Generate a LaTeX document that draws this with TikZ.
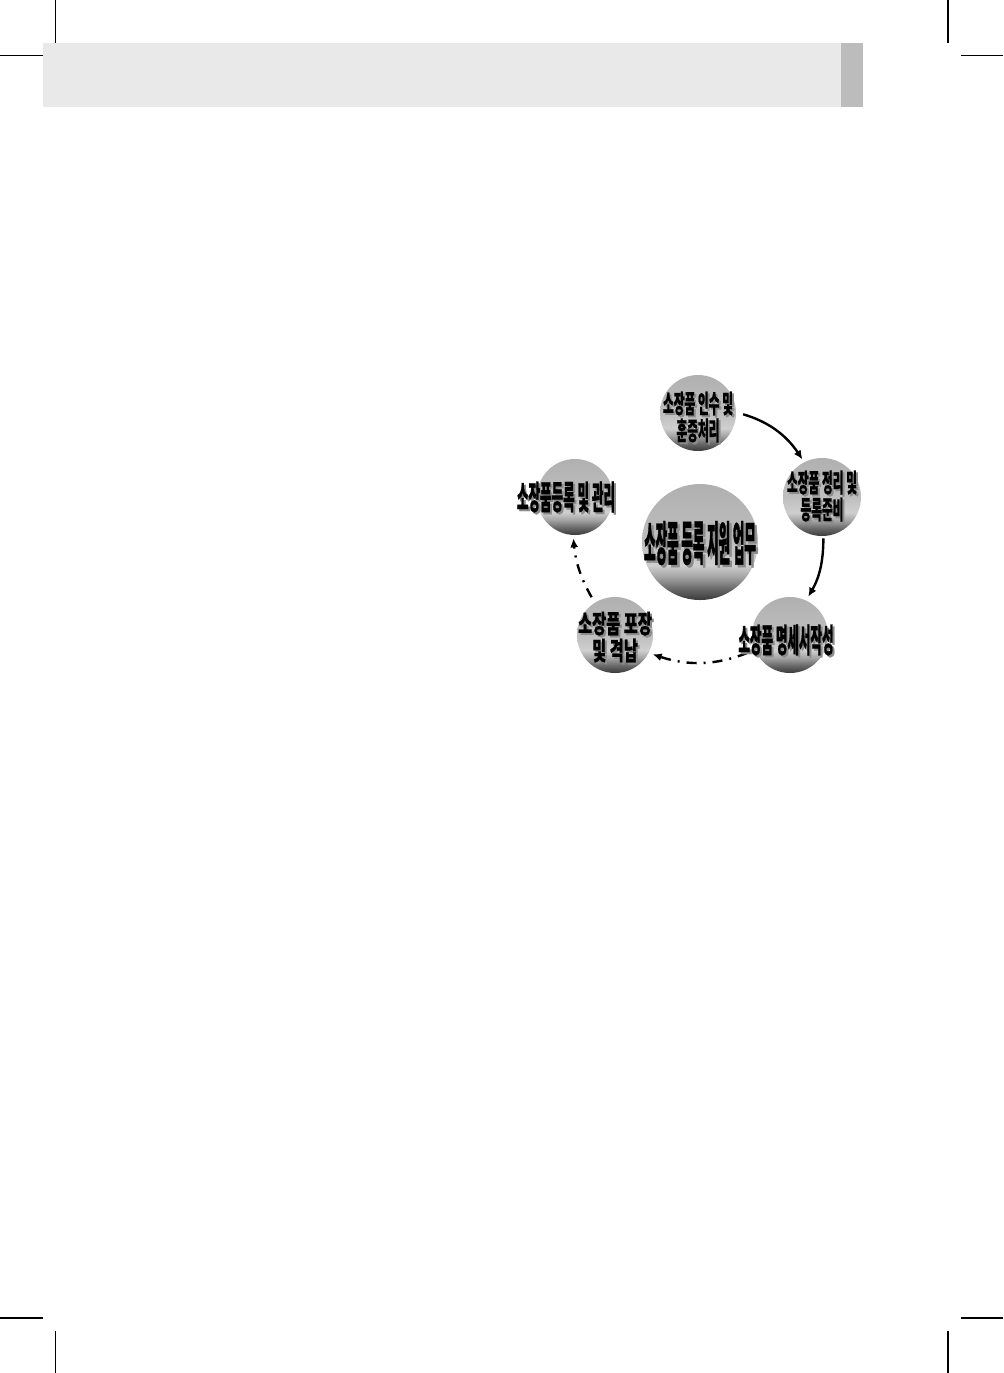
\documentclass[tikz,border=0pt]{standalone}
\usepackage{fontspec}
\newfontfamily\krN{Noto Sans CJK KR}[FakeStretch=0.46, FakeBold=0.5]
\newfontfamily\krW{Noto Sans CJK KR}[FakeStretch=0.60, FakeBold=0.5]
\newfontfamily\krS{Noto Sans CJK KR}[FakeStretch=0.38, FakeBold=0.5]
\newfontfamily\krC{Noto Sans CJK KR}[FakeStretch=0.265, FakeBold=0.7]
\usetikzlibrary{arrows.meta}
\definecolor{hdrgray}{HTML}{E9E9E9}
\definecolor{hdrstrip}{HTML}{BCBCBC}
\definecolor{sdgray}{HTML}{8C8C8C}
\definecolor{shA}{HTML}{3A3A3A}
\definecolor{shB}{HTML}{6A6A6A}
\definecolor{shC}{HTML}{A4A4A4}
\definecolor{shD}{HTML}{CFCFCF}
\definecolor{shE}{HTML}{BEBEBE}
\definecolor{shF}{HTML}{B0B0B0}
\pgfdeclareverticalshading{bubbleshade}{100bp}{color(0bp)=(shA); color(25bp)=(shA); color(30bp)=(shB); color(35bp)=(shC); color(40bp)=(shD); color(50bp)=(shE); color(75bp)=(shF); color(100bp)=(shF)}
\begin{document}
\begin{tikzpicture}[x=0.5pt,y=-0.5pt,
  bubble/.style={circle, draw=none, shading=bubbleshade, inner sep=0pt},
  crop/.style={line width=0.6pt, black},
  lbl/.style={align=center, inner sep=0pt, text=black},
  sd/.style={lbl, text=sdgray},
  twoline/.style={font=\krN\bfseries\fontsize{12.75pt}{13.5pt}\selectfont},
  wideline/.style={font=\krW\bfseries\fontsize{12.75pt}{13.5pt}\selectfont},
  oneline/.style={font=\krS\bfseries\fontsize{16.5pt}{18pt}\selectfont},
  bigline/.style={font=\krC\bfseries\fontsize{23.5pt}{25pt}\selectfont},
  flow/.style={-{Latex[length=4.5pt,width=4pt]}, line width=1.2pt},
  dflow/.style={flow, dash pattern=on 5pt off 3.5pt on 1pt off 3.5pt}
]
\useasboundingbox (0,0) rectangle (1003,1373);
\fill[white] (0,0) rectangle (1003,1373);
% header band
\fill[hdrgray] (43,43) rectangle (841,107);
\fill[hdrstrip] (841,43) rectangle (863,107);
% crop marks
\draw[crop] (55.5,0) -- (55.5,42.5);
\draw[crop] (0,55.5) -- (42.5,55.5);
\draw[crop] (948,0) -- (948,42.5);
\draw[crop] (961,55.5) -- (1003,55.5);
\draw[crop] (0,1318) -- (42.5,1318);
\draw[crop] (55.5,1330.5) -- (55.5,1373);
\draw[crop] (961,1318) -- (1003,1318);
\draw[crop] (948,1330.5) -- (948,1373);
% circles
\node[bubble, minimum size=38pt] (n1) at (698,413) {};
\node[bubble, minimum size=39pt] (n2) at (822,497) {};
\node[bubble, minimum size=38pt] (n3) at (790,635) {};
\node[bubble, minimum size=38pt] (n4) at (615,635) {};
\node[bubble, minimum size=38pt] (n5) at (575,497) {};
\node[bubble, minimum size=58pt] (c) at (700,542) {};
% connectors
\draw[flow, shorten <=3.5pt, shorten >=1.5pt] (n1.1) to[bend left=20] (n2.117);
\draw[flow, shorten <=1pt, shorten >=2pt] (n2.272) to[bend left=15] (n3.65);
\draw[dflow, shorten <=4pt, shorten >=2pt] (n3.203) to[bend left=20] (n4.-28);
\draw[dflow, shorten <=3pt, shorten >=1.5pt] (n4.122) to[bend left=12] (n5.267);
% labels (shadow, then text)
\node[sd, twoline] (t1s) at (700,419) {소장품 인수 및\\훈증처리};
\node[lbl, twoline] (t1) at (698,417) {소장품 인수 및\\훈증처리};
\node[sd, twoline] (t2s) at (824,498) {소장품 정리 및\\등록준비};
\node[lbl, twoline] (t2) at (822,496) {소장품 정리 및\\등록준비};
\node[sd, oneline] (t3s) at (788,642) {소장품 명세서작성};
\node[lbl, oneline] (t3) at (786,640) {소장품 명세서작성};
\node[sd, wideline] (t4s) at (617,639) {소장품 포장\\및 격납};
\node[lbl, wideline] (t4) at (615,637) {소장품 포장\\및 격납};
\node[sd, oneline] (t5s) at (568,499) {소장품등록 및 관리};
\node[lbl, oneline] (t5) at (566,497) {소장품등록 및 관리};
\node[sd, bigline] (tcs) at (702.5,545.5) {소장품 등록 지원 업무};
\node[lbl, bigline] (tc) at (700,543) {소장품 등록 지원 업무};
\end{tikzpicture}
\end{document}
